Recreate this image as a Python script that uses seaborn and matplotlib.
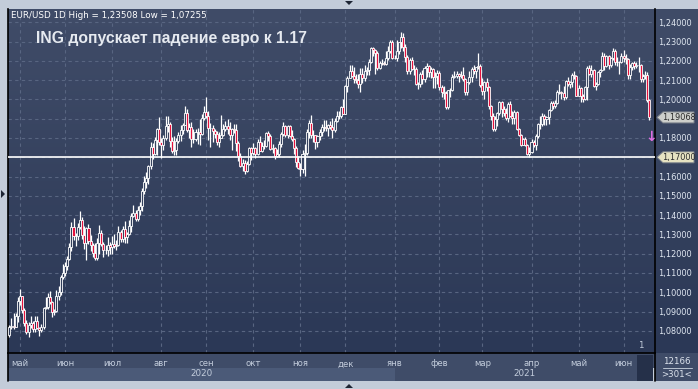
import numpy as np
import pandas as pd
import matplotlib
matplotlib.use("Agg")
import matplotlib.pyplot as plt
import seaborn as sns
from matplotlib.patches import Polygon, Rectangle
from matplotlib.lines import Line2D
from matplotlib.colors import LinearSegmentedColormap

sns.set_theme(style="dark")
plt.rcParams["font.family"] = ["DejaVu Sans"]

# ---------------- data: EUR/USD daily, 24.04.2020 - 17.06.2021 ----------------
open_ = [
    1.0780, 1.0822, 1.0826, 1.0822, 1.0875,
    1.0954, 1.0982, 1.0907, 1.0839, 1.0796, 1.0831, 1.0838, 1.0808, 1.0851, 1.0817, 1.0804,
    1.0820, 1.0918, 1.0924, 1.0978, 1.0949, 1.0900, 1.0902, 1.0979, 1.1003, 1.1077,
    1.1100, 1.1135, 1.1171, 1.1237, 1.1337, 1.1290, 1.1294, 1.1340, 1.1373, 1.1299, 1.1256,
    1.1332, 1.1264, 1.1244, 1.1205, 1.1177, 1.1258, 1.1307, 1.1250, 1.1219, 1.1220, 1.1243,
    1.1234, 1.1251, 1.1239, 1.1245, 1.1310, 1.1276, 1.1330, 1.1284, 1.1300, 1.1343, 1.1398,
    1.1412, 1.1382, 1.1428, 1.1446, 1.1527, 1.1570, 1.1595, 1.1656, 1.1754, 1.1716, 1.1792, 1.1846,
    1.1778, 1.1763, 1.1801, 1.1864, 1.1874, 1.1787, 1.1735, 1.1737, 1.1784, 1.1813, 1.1842,
    1.1870, 1.1931, 1.1840, 1.1857, 1.1795, 1.1794, 1.1832, 1.1833, 1.1822, 1.1903,
    1.1937, 1.1913, 1.1854, 1.1850, 1.1838, 1.1819, 1.1780, 1.1801, 1.1814, 1.1845, 1.1864,
    1.1846, 1.1815, 1.1848, 1.1839, 1.1773, 1.1705, 1.1657, 1.1672, 1.1631, 1.1666, 1.1746,
    1.1721, 1.1750, 1.1716, 1.1781, 1.1734, 1.1761, 1.1760, 1.1825, 1.1812, 1.1742, 1.1747,
    1.1705, 1.1719, 1.1768, 1.1820, 1.1861, 1.1816, 1.1860, 1.1811, 1.1795, 1.1746, 1.1676,
    1.1647, 1.1641, 1.1716, 1.1723, 1.1833, 1.1876, 1.1814, 1.1815, 1.1778, 1.1808, 1.1833,
    1.1855, 1.1859, 1.1852, 1.1870, 1.1859, 1.1843, 1.1888, 1.1915, 1.1915, 1.1962,
    1.1927, 1.2072, 1.2113, 1.2147, 1.2120, 1.2107, 1.2101, 1.2078, 1.2132, 1.2109, 1.2145,
    1.2152, 1.2195, 1.2268, 1.2255, 1.2240, 1.2163, 1.2190, 1.2189, 1.2186, 1.2214, 1.2249, 1.2299,
    1.2216, 1.2214, 1.2250, 1.2297, 1.2326, 1.2272, 1.2221, 1.2150, 1.2207, 1.2159, 1.2156,
    1.2079, 1.2078, 1.2132, 1.2106, 1.2165, 1.2173, 1.2140, 1.2160, 1.2114, 1.2119,
    1.2137, 1.2062, 1.2037, 1.2035, 1.1962, 1.2049, 1.2050, 1.2118, 1.2121, 1.2132,
    1.2119, 1.2127, 1.2108, 1.2038, 1.2090, 1.2117, 1.2157, 1.2150, 1.2166, 1.2175,
    1.2075, 1.2045, 1.2090, 1.2064, 1.1965, 1.1915, 1.1848, 1.1900, 1.1929, 1.1985, 1.1952,
    1.1930, 1.1902, 1.1978, 1.1914, 1.1904, 1.1935, 1.1848, 1.1813, 1.1765, 1.1794, 1.1763, 1.1719,
    1.1727, 1.1778, 1.1763, 1.1812, 1.1874, 1.1871, 1.1915, 1.1900, 1.1911, 1.1945, 1.1980,
    1.1967, 1.1982, 1.2039, 1.2036, 1.2032, 1.2013, 1.2097, 1.2082, 1.2090, 1.2127, 1.2122,
    1.2020, 1.2061, 1.2017, 1.2004, 1.2067, 1.2164, 1.2134, 1.2151, 1.2072, 1.2080, 1.2143,
    1.2155, 1.2223, 1.2174, 1.2225, 1.2180, 1.2213, 1.2250, 1.2192, 1.2193, 1.2193,
    1.2227, 1.2213, 1.2212, 1.2127, 1.2167, 1.2189, 1.2173, 1.2179, 1.2176, 1.2107, 1.2120,
    1.2125, 1.1996,
]
high = [
    1.0830, 1.0865, 1.0890, 1.0890, 1.0973,
    1.1019, 1.0983, 1.0917, 1.0855, 1.0845, 1.0876, 1.0850, 1.0876, 1.0875, 1.0820, 1.0835,
    1.0925, 1.0975, 1.0994, 1.1008, 1.0955, 1.0915, 1.1010, 1.1030, 1.1092, 1.1146,
    1.1155, 1.1190, 1.1257, 1.1362, 1.1384, 1.1305, 1.1361, 1.1422, 1.1390, 1.1346, 1.1336,
    1.1355, 1.1296, 1.1258, 1.1255, 1.1280, 1.1349, 1.1322, 1.1260, 1.1245, 1.1285, 1.1262,
    1.1290, 1.1303, 1.1271, 1.1346, 1.1323, 1.1345, 1.1371, 1.1310, 1.1375, 1.1412, 1.1452,
    1.1427, 1.1445, 1.1468, 1.1540, 1.1601, 1.1626, 1.1660, 1.1781, 1.1776, 1.1805, 1.1850, 1.1909,
    1.1798, 1.1817, 1.1916, 1.1916, 1.1883, 1.1806, 1.1809, 1.1798, 1.1833, 1.1866, 1.1880,
    1.1966, 1.1950, 1.1880, 1.1883, 1.1846, 1.1848, 1.1850, 1.1901, 1.1925, 1.1966,
    1.2011, 1.1940, 1.1877, 1.1870, 1.1848, 1.1838, 1.1833, 1.1917, 1.1873, 1.1886, 1.1900,
    1.1883, 1.1851, 1.1873, 1.1872, 1.1782, 1.1720, 1.1689, 1.1684, 1.1683, 1.1753, 1.1755,
    1.1772, 1.1752, 1.1797, 1.1808, 1.1780, 1.1792, 1.1831, 1.1834, 1.1823, 1.1770, 1.1751,
    1.1742, 1.1782, 1.1831, 1.1881, 1.1865, 1.1866, 1.1870, 1.1839, 1.1799, 1.1760, 1.1708,
    1.1669, 1.1737, 1.1769, 1.1846, 1.1891, 1.1920, 1.1839, 1.1817, 1.1818, 1.1846, 1.1872,
    1.1894, 1.1891, 1.1874, 1.1889, 1.1905, 1.1903, 1.1940, 1.1942, 1.1965, 1.2004,
    1.2077, 1.2122, 1.2177, 1.2178, 1.2167, 1.2133, 1.2130, 1.2163, 1.2161, 1.2177, 1.2168,
    1.2212, 1.2273, 1.2273, 1.2261, 1.2250, 1.2200, 1.2211, 1.2200, 1.2250, 1.2276, 1.2310, 1.2310,
    1.2230, 1.2310, 1.2299, 1.2349, 1.2344, 1.2286, 1.2230, 1.2215, 1.2220, 1.2178, 1.2166,
    1.2092, 1.2144, 1.2154, 1.2172, 1.2190, 1.2180, 1.2167, 1.2163, 1.2140, 1.2155,
    1.2146, 1.2075, 1.2070, 1.2044, 1.2051, 1.2060, 1.2130, 1.2150, 1.2149, 1.2135,
    1.2145, 1.2170, 1.2110, 1.2093, 1.2145, 1.2168, 1.2181, 1.2170, 1.2243, 1.2182,
    1.2113, 1.2094, 1.2113, 1.2072, 1.1972, 1.1932, 1.1914, 1.1935, 1.1990, 1.1990, 1.1964,
    1.1953, 1.1989, 1.1990, 1.1940, 1.1945, 1.1940, 1.1853, 1.1823, 1.1800, 1.1806, 1.1770, 1.1755,
    1.1795, 1.1790, 1.1820, 1.1877, 1.1915, 1.1928, 1.1927, 1.1912, 1.1948, 1.1992, 1.1993,
    1.1995, 1.2048, 1.2080, 1.2045, 1.2070, 1.2103, 1.2116, 1.2095, 1.2135, 1.2150, 1.2125,
    1.2076, 1.2065, 1.2030, 1.2072, 1.2173, 1.2181, 1.2180, 1.2160, 1.2090, 1.2150, 1.2160,
    1.2245, 1.2240, 1.2230, 1.2230, 1.2220, 1.2266, 1.2262, 1.2220, 1.2200, 1.2241,
    1.2255, 1.2236, 1.2215, 1.2184, 1.2196, 1.2200, 1.2192, 1.2218, 1.2183, 1.2132, 1.2145,
    1.2141, 1.2003,
]
low = [
    1.0770, 1.0810, 1.0812, 1.0818, 1.0848,
    1.0936, 1.0895, 1.0823, 1.0782, 1.0767, 1.0815, 1.0795, 1.0795, 1.0807, 1.0775, 1.0795,
    1.0810, 1.0915, 1.0915, 1.0940, 1.0870, 1.0880, 1.0900, 1.0960, 1.0985, 1.1068,
    1.1082, 1.1116, 1.1166, 1.1212, 1.1271, 1.1241, 1.1273, 1.1329, 1.1275, 1.1226, 1.1168,
    1.1252, 1.1213, 1.1185, 1.1168, 1.1168, 1.1200, 1.1240, 1.1184, 1.1200, 1.1190, 1.1200,
    1.1200, 1.1230, 1.1220, 1.1240, 1.1259, 1.1260, 1.1258, 1.1255, 1.1295, 1.1310, 1.1392,
    1.1370, 1.1372, 1.1402, 1.1423, 1.1507, 1.1540, 1.1560, 1.1638, 1.1689, 1.1713, 1.1712, 1.1762,
    1.1696, 1.1740, 1.1792, 1.1829, 1.1755, 1.1722, 1.1711, 1.1710, 1.1773, 1.1782, 1.1820,
    1.1865, 1.1830, 1.1802, 1.1753, 1.1775, 1.1782, 1.1771, 1.1762, 1.1818, 1.1895,
    1.1903, 1.1789, 1.1754, 1.1781, 1.1800, 1.1765, 1.1753, 1.1798, 1.1810, 1.1835, 1.1822,
    1.1789, 1.1737, 1.1828, 1.1730, 1.1682, 1.1651, 1.1627, 1.1612, 1.1626, 1.1662, 1.1686,
    1.1711, 1.1696, 1.1710, 1.1730, 1.1727, 1.1742, 1.1751, 1.1787, 1.1738, 1.1723, 1.1689,
    1.1701, 1.1703, 1.1754, 1.1810, 1.1807, 1.1802, 1.1803, 1.1787, 1.1718, 1.1650, 1.1640,
    1.1603, 1.1620, 1.1603, 1.1710, 1.1800, 1.1800, 1.1780, 1.1745, 1.1755, 1.1790, 1.1809,
    1.1834, 1.1835, 1.1812, 1.1847, 1.1800, 1.1830, 1.1881, 1.1900, 1.1905, 1.1924,
    1.1922, 1.2040, 1.2109, 1.2114, 1.2085, 1.2083, 1.2058, 1.2037, 1.2085, 1.2098, 1.2125,
    1.2127, 1.2190, 1.2223, 1.2130, 1.2152, 1.2160, 1.2176, 1.2180, 1.2180, 1.2206, 1.2243, 1.2212,
    1.2210, 1.2200, 1.2237, 1.2265, 1.2249, 1.2193, 1.2132, 1.2133, 1.2151, 1.2127, 1.2075,
    1.2053, 1.2064, 1.2080, 1.2093, 1.2115, 1.2118, 1.2110, 1.2058, 1.2060, 1.2080,
    1.2050, 1.2011, 1.2003, 1.1952, 1.1950, 1.2014, 1.2044, 1.2110, 1.2110, 1.2092,
    1.2110, 1.2098, 1.2023, 1.2022, 1.2081, 1.2091, 1.2130, 1.2110, 1.2160, 1.2065,
    1.2023, 1.2003, 1.2043, 1.1950, 1.1892, 1.1836, 1.1835, 1.1860, 1.1920, 1.1910, 1.1915,
    1.1895, 1.1883, 1.1909, 1.1874, 1.1875, 1.1841, 1.1808, 1.1760, 1.1762, 1.1758, 1.1712, 1.1704,
    1.1720, 1.1752, 1.1740, 1.1800, 1.1846, 1.1864, 1.1869, 1.1870, 1.1872, 1.1938, 1.1952,
    1.1958, 1.1975, 1.2028, 1.2002, 1.1995, 1.2003, 1.2068, 1.2060, 1.2062, 1.2108, 1.2018,
    1.2017, 1.1985, 1.1987, 1.1996, 1.1999, 1.2128, 1.2114, 1.2065, 1.2051, 1.2076, 1.2118,
    1.2150, 1.2152, 1.2170, 1.2160, 1.2170, 1.2207, 1.2177, 1.2172, 1.2133, 1.2190,
    1.2195, 1.2185, 1.2104, 1.2105, 1.2153, 1.2160, 1.2165, 1.2144, 1.2093, 1.2093, 1.2104,
    1.1986, 1.1893,
]
close = [
    1.0822, 1.0826, 1.0822, 1.0875, 1.0954,
    1.0982, 1.0907, 1.0839, 1.0796, 1.0831, 1.0838, 1.0808, 1.0851, 1.0817, 1.0804, 1.0820,
    1.0918, 1.0924, 1.0978, 1.0949, 1.0900, 1.0902, 1.0979, 1.1003, 1.1077, 1.1100,
    1.1135, 1.1171, 1.1237, 1.1337, 1.1290, 1.1294, 1.1340, 1.1373, 1.1299, 1.1256, 1.1332,
    1.1264, 1.1244, 1.1205, 1.1177, 1.1258, 1.1307, 1.1250, 1.1219, 1.1220, 1.1243, 1.1234,
    1.1251, 1.1239, 1.1245, 1.1310, 1.1276, 1.1330, 1.1284, 1.1300, 1.1343, 1.1398, 1.1412,
    1.1382, 1.1428, 1.1446, 1.1527, 1.1570, 1.1595, 1.1656, 1.1754, 1.1716, 1.1792, 1.1846, 1.1778,
    1.1763, 1.1801, 1.1864, 1.1874, 1.1787, 1.1735, 1.1737, 1.1784, 1.1813, 1.1842, 1.1870,
    1.1931, 1.1840, 1.1857, 1.1795, 1.1794, 1.1832, 1.1833, 1.1822, 1.1903, 1.1937,
    1.1913, 1.1854, 1.1850, 1.1838, 1.1819, 1.1780, 1.1801, 1.1814, 1.1845, 1.1864, 1.1846,
    1.1815, 1.1848, 1.1839, 1.1773, 1.1705, 1.1657, 1.1672, 1.1631, 1.1666, 1.1746, 1.1721,
    1.1750, 1.1716, 1.1781, 1.1734, 1.1761, 1.1760, 1.1825, 1.1812, 1.1742, 1.1747, 1.1705,
    1.1719, 1.1768, 1.1820, 1.1861, 1.1816, 1.1860, 1.1811, 1.1795, 1.1746, 1.1676, 1.1647,
    1.1641, 1.1716, 1.1723, 1.1833, 1.1876, 1.1814, 1.1815, 1.1778, 1.1808, 1.1833, 1.1855,
    1.1859, 1.1852, 1.1870, 1.1859, 1.1843, 1.1888, 1.1915, 1.1915, 1.1962, 1.1927,
    1.2072, 1.2113, 1.2147, 1.2120, 1.2107, 1.2101, 1.2078, 1.2132, 1.2109, 1.2145, 1.2152,
    1.2195, 1.2268, 1.2255, 1.2240, 1.2163, 1.2190, 1.2189, 1.2186, 1.2214, 1.2249, 1.2299, 1.2216,
    1.2214, 1.2250, 1.2297, 1.2326, 1.2272, 1.2221, 1.2150, 1.2207, 1.2159, 1.2156, 1.2079,
    1.2078, 1.2132, 1.2106, 1.2165, 1.2173, 1.2140, 1.2160, 1.2114, 1.2119, 1.2137,
    1.2062, 1.2037, 1.2035, 1.1962, 1.2049, 1.2050, 1.2118, 1.2121, 1.2132, 1.2119,
    1.2127, 1.2108, 1.2038, 1.2090, 1.2117, 1.2157, 1.2150, 1.2166, 1.2175, 1.2075,
    1.2045, 1.2090, 1.2064, 1.1965, 1.1915, 1.1848, 1.1900, 1.1929, 1.1985, 1.1952, 1.1930,
    1.1902, 1.1978, 1.1914, 1.1904, 1.1935, 1.1848, 1.1813, 1.1765, 1.1794, 1.1763, 1.1719, 1.1727,
    1.1778, 1.1763, 1.1812, 1.1874, 1.1871, 1.1915, 1.1900, 1.1911, 1.1945, 1.1980, 1.1967,
    1.1982, 1.2039, 1.2036, 1.2032, 1.2013, 1.2097, 1.2082, 1.2090, 1.2127, 1.2122, 1.2020,
    1.2061, 1.2017, 1.2004, 1.2067, 1.2164, 1.2134, 1.2151, 1.2072, 1.2080, 1.2143, 1.2155,
    1.2223, 1.2174, 1.2225, 1.2180, 1.2213, 1.2250, 1.2192, 1.2193, 1.2193, 1.2227,
    1.2213, 1.2212, 1.2127, 1.2167, 1.2189, 1.2173, 1.2179, 1.2176, 1.2107, 1.2120, 1.2125,
    1.1996, 1.1907,
]
month_labels = ["май", "июн", "июл", "авг", "сен", "окт", "ноя", "дек",
                "янв", "фев", "мар", "апр", "май", "июн"]
year_labels = ["2020", "2021"]
y_ticks = [1.08, 1.09, 1.10, 1.11, 1.12, 1.13, 1.14, 1.15, 1.16,
           1.17, 1.18, 1.19, 1.20, 1.21, 1.22, 1.23, 1.24]
level = 1.17
last_price = 1.19068
title = "ING допускает падение евро к 1.17"
header = "EUR/USD 1D High = 1,23508 Low = 1,07255"

dates = pd.bdate_range("2020-04-24", "2021-06-17")
df = pd.DataFrame({"date": dates, "open": open_, "high": high,
                   "low": low, "close": close})
df["i"] = np.arange(len(df))

# ---------------- figure ----------------
W, H = 698, 389
fig = plt.figure(figsize=(W / 100, H / 100), dpi=100)
fig.patch.set_facecolor("#c3ccd9")


def fx(px):
    return px / W


def fy(py):
    return 1 - py / H


def frect(x0, y0, x1, y1, color, z=-2):
    fig.patches.append(Rectangle((fx(x0), fy(y1)), fx(x1 - x0), (y1 - y0) / H,
                                 transform=fig.transFigure, facecolor=color,
                                 edgecolor="none", zorder=z))


L, R, T, B = 8, 655, 9, 353
YMIN, YMAX = 1.0685, 1.2469
XMIN, XMAX = -0.61, 301.7

# gradient background for chart + right price panel
bg = fig.add_axes([fx(L), fy(B), fx(698 - L), (B - T) / H], zorder=-5)
cmap = LinearSegmentedColormap.from_list("bgc", ["#404c68", "#2b3856"])
bg.imshow(np.linspace(0, 1, 256).reshape(-1, 1), aspect="auto", cmap=cmap,
          extent=[0, 1, 0, 1], origin="upper")
bg.axis("off")

ax = fig.add_axes([fx(L), fy(B), fx(R - L), (B - T) / H], zorder=0)
ax.set_facecolor("none")
ax.set_xlim(XMIN, XMAX)
ax.set_ylim(YMIN, YMAX)

# candles
up = df["close"] >= df["open"]
dn = ~up
ax.vlines(df["i"], df["low"], df["high"], color="white", lw=0.9, zorder=3)
mid_up = (df["open"][up] + df["close"][up]) / 2
up_face = [cmap((YMAX - m) / (YMAX - YMIN)) for m in mid_up]
ax.bar(df["i"][up], (df["close"] - df["open"])[up], bottom=df["open"][up],
       width=0.95, color=up_face, edgecolor="white", linewidth=0.6, zorder=4)
ax.bar(df["i"][dn], (df["open"] - df["close"])[dn], bottom=df["close"][dn],
       width=0.95, color="#e5123d", edgecolor="white", linewidth=0.6, zorder=4)

ax.axhline(level, color="white", lw=1.2, zorder=5)

# grid / ticks
month_start = df.groupby([df["date"].dt.year, df["date"].dt.month])["i"].min().values[1:]
ax.set_xticks(month_start)
ax.set_xticklabels(month_labels)
ax.set_yticks(y_ticks)
ax.set_yticklabels(["" if abs(v - 1.19) < 1e-9 or abs(v - 1.17) < 1e-9
                    else f"{v:.5f}".replace(".", ",") for v in y_ticks])
ax.yaxis.tick_right()
ax.grid(True, color="#586581", ls=(0, (3, 3)), lw=0.8)
ax.tick_params(axis="y", length=0, pad=2.2, labelsize=5.9, labelcolor="#e1e8f2")
ax.tick_params(axis="x", length=0, pad=4.6, labelsize=6.1, labelcolor="#c3cddc")
for s in ["left", "right", "bottom"]:
    ax.spines[s].set_visible(True)
    ax.spines[s].set_color("black")
    ax.spines[s].set_linewidth(1.2)
ax.spines["top"].set_visible(False)


def px_of_i(i):
    return L + (i - XMIN) / (XMAX - XMIN) * (R - L)


jan_px = px_of_i(month_start[8])

# bottom bands
frect(L, B, 698, 368, "#3f4c68")
frect(L, 368, jan_px, 381, "#4b5a78")
frect(jan_px, 368, 637, 381, "#3f4c68")
frect(637, 355, 653, 381, "#253049", z=1)
frect(655, 354, 698, 381, "#3f4c68")
fig.add_artist(Line2D([fx(L), fx(L)], [fy(B), fy(381)], color="black", lw=1.2,
                      transform=fig.transFigure))
fig.add_artist(Line2D([fx(R), fx(R)], [fy(B), fy(381)], color="black", lw=1.2,
                      transform=fig.transFigure))
fig.text(fx((L + jan_px) / 2), fy(374), year_labels[0], ha="center", va="center",
         fontsize=6.3, color="#c3cddc")
fig.text(fx((jan_px + R) / 2), fy(374), year_labels[1], ha="center", va="center",
         fontsize=6.3, color="#c3cddc")
fig.text(fx(677), fy(362), "12166", ha="center", va="center", fontsize=6.2,
         color="#dde4ee")
fig.add_artist(Line2D([fx(663), fx(692)], [fy(368), fy(368)], color="#b8c2d0",
                      lw=0.7, transform=fig.transFigure))
fig.text(fx(677), fy(374.5), ">301<", ha="center", va="center", fontsize=6.2,
         color="#dde4ee")
fig.text(fx(641), fy(346), "1", ha="center", va="center", fontsize=6.2,
         color="#c3cddc")

# price tags
def tag(price, txt, face):
    yc = 157.3 - (price - 1.17) * 1928.6
    pts = [(657, yc), (663, yc - 5.5), (694, yc - 5.5), (694, yc + 5.5), (663, yc + 5.5)]
    fig.patches.append(Polygon([(fx(x), fy(y)) for x, y in pts], closed=True,
                               transform=fig.transFigure, facecolor=face,
                               edgecolor="#7d838c", lw=0.7, zorder=3))
    fig.text(fx(662), fy(yc), txt, ha="left", va="center", fontsize=5.9,
             color="#2a2a2a", zorder=4)


tag(last_price, f"{last_price:.5f}".replace(".", ","), "#cdcfcb")
tag(level, f"{level:.5f}".replace(".", ","), "#e6e2c2")

# texts
fig.text(fx(11), fy(15), header, ha="left", va="center", fontsize=6.3,
         color="white")
fig.text(fx(36), fy(38.5), title, ha="left", va="center", fontsize=11.3,
         fontweight="bold", color="#e6eaf0", family=["Liberation Sans", "DejaVu Sans"])
fig.text(fx(651), fy(137), "↓", ha="center", va="center", fontsize=10,
         fontweight="bold", color="#e06ee4")

# little frame triangles
for pts in ([(345, 1), (353, 1), (349, 5)], [(345, 388), (353, 388), (349, 384)],
            [(1, 190), (1, 198), (5, 194)]):
    fig.patches.append(Polygon([(fx(x), fy(y)) for x, y in pts], closed=True,
                               transform=fig.transFigure, facecolor="#1d2433",
                               edgecolor="none", zorder=3))

fig.savefig("out.png", dpi=100, facecolor=fig.get_facecolor())
